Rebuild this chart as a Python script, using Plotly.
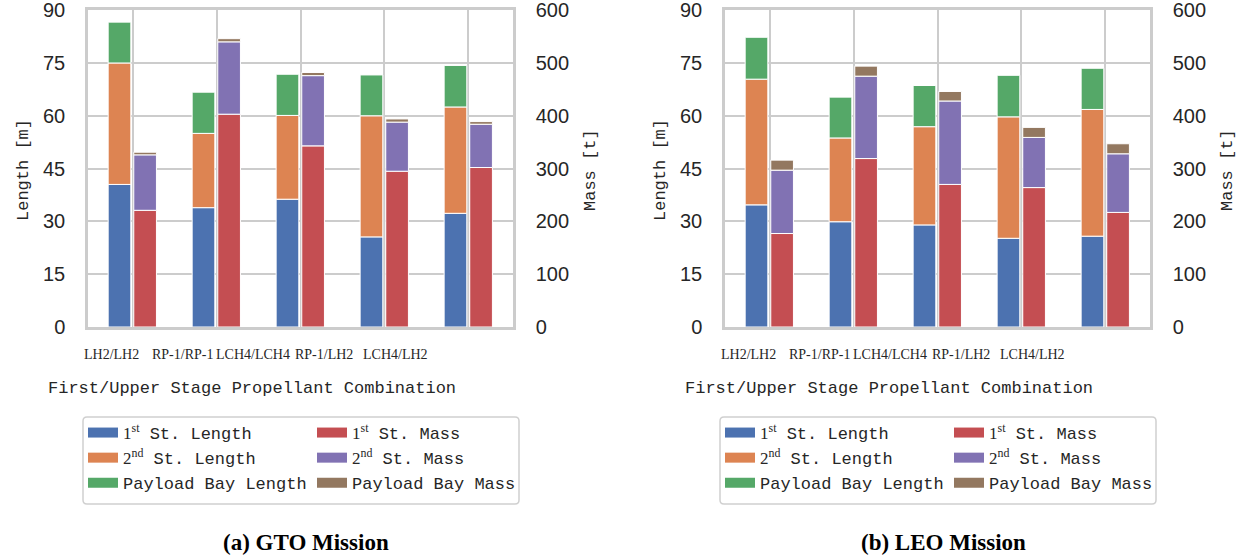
import plotly.graph_objects as go

W, H = 1250, 560

categories = ["LH2/LH2", "RP-1/RP-1", "LCH4/LCH4", "RP-1/LH2", "LCH4/LH2"]

# GTO mission
gto_len_st1 = [40.5, 33.9, 36.3, 25.6, 32.3]
gto_len_st2 = [34.5, 21.1, 23.8, 34.4, 30.2]
gto_len_pb = [11.6, 11.7, 11.7, 11.6, 11.8]
gto_mass_st1 = [221, 403, 343, 295, 302]
gto_mass_st2 = [105, 137, 133, 93, 82]
gto_mass_pb = [5, 6, 6, 6, 5]

# LEO mission
leo_len_st1 = [34.7, 29.9, 29.0, 25.2, 25.8]
leo_len_st2 = [35.7, 23.8, 27.9, 34.5, 36.0]
leo_len_pb = [11.9, 11.6, 11.7, 11.8, 11.7]
leo_mass_st1 = [177, 319, 270, 264, 217]
leo_mass_st2 = [120, 156, 158, 95, 111]
leo_mass_pb = [19, 19, 18, 19, 19]

len_names = ['<span style="font-family:Liberation Serif">1<sup>st</sup></span> St. Length',
             '<span style="font-family:Liberation Serif">2<sup>nd</sup></span> St. Length',
             'Payload Bay Length']
mass_names = ['<span style="font-family:Liberation Serif">1<sup>st</sup></span> St. Mass',
              '<span style="font-family:Liberation Serif">2<sup>nd</sup></span> St. Mass',
              'Payload Bay Mass']
len_colors = ["#4C72B0", "#DD8452", "#55A868"]
mass_colors = ["#C44E52", "#8172B3", "#937860"]

panels = [
    dict(lens=[gto_len_st1, gto_len_st2, gto_len_pb],
         masses=[gto_mass_st1, gto_mass_st2, gto_mass_pb],
         xa="x", ya="y", ya2="y2", lg1="legend", lg2="legend2",
         x0=88, x1=513, title="(a) GTO Mission"),
    dict(lens=[leo_len_st1, leo_len_st2, leo_len_pb],
         masses=[leo_mass_st1, leo_mass_st2, leo_mass_pb],
         xa="x2", ya="y3", ya2="y4", lg1="legend3", lg2="legend4",
         x0=725, x1=1150, title="(b) LEO Mission"),
]

fig = go.Figure()
BW = 0.27

def legend_proxy(name, color, xa, ya, lg):
    # wide rectangular legend swatch, draws no mark
    return go.Scatter(x=[None], y=[None], mode="lines", name=name,
                      line=dict(color=color, width=12), xaxis=xa, yaxis=ya,
                      legend=lg, hoverinfo="skip")

for p in panels:
    base = [0] * len(categories)
    for vals, nm, col in zip(p["lens"], len_names, len_colors):
        fig.add_trace(go.Bar(x=categories, y=vals, base=base, width=BW, offset=-0.29,
                             name=nm, marker=dict(color=col, line=dict(color="white", width=1)),
                             xaxis=p["xa"], yaxis=p["ya"], showlegend=False))
        fig.add_trace(legend_proxy(nm, col, p["xa"], p["ya"], p["lg1"]))
        base = [b + v for b, v in zip(base, vals)]
    base = [0] * len(categories)
    for vals, nm, col in zip(p["masses"], mass_names, mass_colors):
        fig.add_trace(go.Bar(x=categories, y=vals, base=base, width=BW, offset=0.015,
                             name=nm, marker=dict(color=col, line=dict(color="white", width=1)),
                             xaxis=p["xa"], yaxis=p["ya2"], showlegend=False))
        fig.add_trace(legend_proxy(nm, col, p["xa"], p["ya2"], p["lg2"]))
        base = [b + v for b, v in zip(base, vals)]

# screen pixel -> paper coordinate
X = lambda v: v / W
Y = lambda v: 1 - v / H

GRID = "#cccccc"
TXT = "#262626"
tickfont = dict(family="Liberation Sans, Arial", size=20, color=TXT)
ydom = [Y(327), Y(10)]

def xax(x0, x1, anchor):
    return dict(domain=[X(x0), X(x1)], anchor=anchor, type="category",
                range=[-0.53, 4.53], showgrid=True, gridcolor=GRID, gridwidth=2,
                showline=True, linecolor=GRID, linewidth=2.5, mirror=True,
                showticklabels=False, ticks="", zeroline=False, automargin=False)

def yax(anchor, rng, dt, **kw):
    d = dict(domain=ydom, anchor=anchor, range=rng, tickmode="linear", tick0=0, dtick=dt,
             showgrid=True, gridcolor=GRID, gridwidth=2, showline=True, linecolor=GRID,
             linewidth=2.5, mirror=True, ticks="", tickfont=tickfont, zeroline=False,
             ticklabelstandoff=16, automargin=False, ticklabeloverflow="allow")
    d.update(kw)
    return d

lg_common = dict(bgcolor="rgba(0,0,0,0)", borderwidth=0, xanchor="left", yanchor="top",
                 font=dict(family="Liberation Mono, Courier New", size=17, color=TXT),
                 tracegroupgap=0, orientation="v", itemwidth=30)

annotations = []
shapes = []
for i, p in enumerate(panels):
    x0, x1 = p["x0"], p["x1"]
    for j, c in enumerate(categories):
        cx = x0 + 23 + 71 * j
        annotations.append(dict(x=X(cx), y=Y(354), xref="paper", yref="paper",
                                text=c, showarrow=False, xanchor="center", yanchor="middle",
                                font=dict(family="Liberation Serif, Times New Roman", size=14, color=TXT)))
    annotations.append(dict(x=X(x0 + 164), y=Y(388), xref="paper", yref="paper",
                            text="First/Upper Stage Propellant Combination", showarrow=False,
                            xanchor="center", yanchor="middle",
                            font=dict(family="Liberation Mono, Courier New", size=17, color=TXT)))
    annotations.append(dict(x=X(x0 - 65), y=Y(170), xref="paper", yref="paper",
                            text="Length [m]", textangle=-90, showarrow=False,
                            xanchor="center", yanchor="middle",
                            font=dict(family="Liberation Mono, Courier New", size=17, color=TXT)))
    annotations.append(dict(x=X(x1 + 77), y=Y(170), xref="paper", yref="paper",
                            text="Mass [t]", textangle=-90, showarrow=False,
                            xanchor="center", yanchor="middle",
                            font=dict(family="Liberation Mono, Courier New", size=17, color=TXT)))
    annotations.append(dict(x=X(x0 + 218), y=Y(542), xref="paper", yref="paper",
                            text="<b>" + p["title"] + "</b>", showarrow=False,
                            xanchor="center", yanchor="middle",
                            font=dict(family="Liberation Serif, Times New Roman", size=23, color="black")))
    bx0, bx1, by0, by1, r = x0 - 5, x0 + 431, 417, 504, 4
    path = (f"M{X(bx0 + r)},{Y(by0)} L{X(bx1 - r)},{Y(by0)} Q{X(bx1)},{Y(by0)} {X(bx1)},{Y(by0 + r)} "
            f"L{X(bx1)},{Y(by1 - r)} Q{X(bx1)},{Y(by1)} {X(bx1 - r)},{Y(by1)} "
            f"L{X(bx0 + r)},{Y(by1)} Q{X(bx0)},{Y(by1)} {X(bx0)},{Y(by1 - r)} "
            f"L{X(bx0)},{Y(by0 + r)} Q{X(bx0)},{Y(by0)} {X(bx0 + r)},{Y(by0)} Z")
    shapes.append(dict(type="path", path=path, xref="paper", yref="paper",
                       line=dict(color="#d0d0d0", width=1.5), fillcolor="rgba(0,0,0,0)"))

layout = dict(
    width=W, height=H, margin=dict(l=0, r=0, t=0, b=0, autoexpand=False),
    paper_bgcolor="white", plot_bgcolor="white", barmode="overlay",
    xaxis=xax(88, 513, "y"),
    xaxis2=xax(725, 1150, "y3"),
    yaxis=yax("x", [0, 90.05], 15),
    yaxis2=yax("x", [0, 600.3], 100, overlaying="y", side="right", showgrid=False),
    yaxis3=yax("x2", [0, 90.05], 15),
    yaxis4=yax("x2", [0, 600.3], 100, overlaying="y3", side="right", showgrid=False),
    legend=dict(lg_common, x=X(83), y=Y(415)),
    legend2=dict(lg_common, x=X(312), y=Y(415)),
    legend3=dict(lg_common, x=X(720), y=Y(415)),
    legend4=dict(lg_common, x=X(949), y=Y(415)),
    annotations=annotations, shapes=shapes, showlegend=True,
)
fig.update_layout(**layout)
# remove the default 8px page margin so the figure fills the window exactly
fig.write_html("out.html", config={"displayModeBar": False},
               post_script="document.body.style.margin='0';")
